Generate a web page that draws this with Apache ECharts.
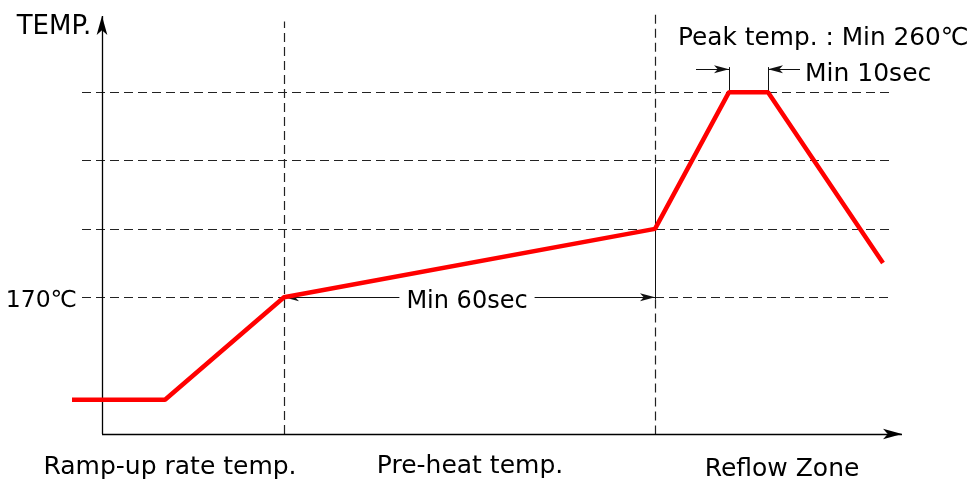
<!DOCTYPE html>
<html>
<head>
<meta charset="utf-8">
<script src="https://cdn.jsdelivr.net/npm/echarts@6/dist/echarts.min.js"></script>
<style>
html,body{margin:0;padding:0;background:#fff;}
#chart{width:971px;height:479px;}
</style>
</head>
<body>
<div id="chart"></div>
<script>
// Reflow profile (x: time units, y: temperature in ℃)
const profileTime = [-7.5, 15.75, 45.5, 138.25, 156.75, 166.5, 195.25];
const profileTemp = [125, 125, 170, 200, 260, 260, 185];

// horizontal guide levels (℃)
const guideLevels = [170, 200, 230, 260];
// zone boundaries (time)
const zoneBounds = [45.5, 138.25];
// peak dwell boundaries (time)
const peakBounds = [156.75, 166.5];
// axis origin / ends
const originTime = 0, originTemp = 110;
const axisEndTime = 200, axisEndTemp = 293.4;

// texts
const zoneLabels = ['Ramp-up rate temp.', 'Pre-heat temp.', 'Reflow Zone'];
const zoneLabelX = [17, 92, 170];
const zoneLabelY = [95.3, 95.8, 94.3];
const yTitle = 'TEMP.';
const levelLabel = '170℃';
const preheatLabel = 'Min 60sec';
const peakLabel = 'Peak temp. : Min 260℃';
const dwellLabel = 'Min 10sec';

const FONT = 'DejaVu Sans';
const TXT = '#000';
const DASH = '#222';

const chart = echarts.init(document.getElementById('chart'), null, {renderer: 'canvas'});

const dashStyle = {color: DASH, width: 1.2, type: [9, 5], opacity: 1};
const solidStyle = {color: '#111', width: 1, type: 'solid', opacity: 1};
const axisStyle = {color: '#000', width: 1.3, type: 'solid', opacity: 1};

function seg(x1, y1, x2, y2, style, s1, s2, size) {
  const sz = size || [6, 15];
  return [
    {coord: [x1, y1], symbol: s1 || 'none', symbolSize: sz, lineStyle: style},
    {coord: [x2, y2], symbol: s2 || 'none', symbolSize: sz, lineStyle: style}
  ];
}

const leftEnd = -5, rightEnd = 197.75;
const segs = [];
// horizontal guides
guideLevels.forEach(function (lv) {
  if (lv === 170) {
    segs.push(seg(leftEnd, lv, zoneBounds[0], lv, dashStyle));
    segs.push(seg(zoneBounds[1], lv, rightEnd, lv, dashStyle));
  } else {
    segs.push(seg(leftEnd, lv, rightEnd, lv, dashStyle));
  }
});
// vertical zone boundaries
segs.push(seg(zoneBounds[0], 110, zoneBounds[0], 291, dashStyle));
segs.push(seg(zoneBounds[1], 294, zoneBounds[1], 227, dashStyle));
segs.push(seg(zoneBounds[1], 227, zoneBounds[1], 169, solidStyle));
segs.push(seg(zoneBounds[1], 169, zoneBounds[1], 110, dashStyle));
// Min 60sec dimension
segs.push(seg(zoneBounds[0], 170, zoneBounds[1], 170, solidStyle, 'arrow', 'arrow'));
// Min 10sec dimension
segs.push(seg(peakBounds[0], 271, peakBounds[0], 260, solidStyle));
segs.push(seg(peakBounds[1], 271, peakBounds[1], 260, solidStyle));
segs.push(seg(148.5, 270, peakBounds[0], 270, solidStyle, 'none', 'arrow'));
segs.push(seg(174.5, 270, peakBounds[1], 270, solidStyle, 'none', 'arrow'));
// axes with arrows
segs.push(seg(originTime, originTemp, axisEndTime, originTemp, axisStyle, 'none', 'arrow', [8, 19]));
segs.push(seg(originTime, originTemp, originTime, axisEndTemp, axisStyle, 'none', 'arrow', [8, 19]));

const option = {
  backgroundColor: '#fff',
  animation: false,
  grid: {left: 62, right: 69, top: 12.4, bottom: 45, containLabel: false},
  xAxis: {
    type: 'value', min: -10, max: 200, show: false,
    axisLine: {show: false}, axisTick: {show: false}, axisLabel: {show: false}, splitLine: {show: false}
  },
  yAxis: {
    type: 'value', min: 110, max: 295, show: false,
    axisLine: {show: false}, axisTick: {show: false}, axisLabel: {show: false}, splitLine: {show: false}
  },
  series: [
    {
      type: 'line', data: [], clip: false, z: 1, silent: true,
      markLine: {silent: true, animation: false, label: {show: false}, symbol: 'none',
        emphasis: {disabled: true}, data: segs}
    },
    {
      type: 'line', clip: false, z: 5, symbol: 'none', silent: true,
      lineStyle: {color: '#f00', width: 4.5},
      data: profileTime.map(function (t, i) { return [t, profileTemp[i]]; })
    }
  ]
};
chart.setOption(option);

// texts placed at data positions converted through the chart's scales
function px(x, y) { return chart.convertToPixel({gridIndex: 0}, [x, y]); }
function txt(x, y, text, align, size, bg) {
  const p = px(x, y);
  return {
    type: 'text', x: p[0], y: p[1], z: 10, silent: true,
    style: {
      text: text, fill: TXT, font: size + 'px "' + FONT + '"',
      align: align, verticalAlign: 'middle',
      backgroundColor: bg || null, padding: bg ? [0, 7] : 0
    }
  };
}
const texts = [];
zoneLabels.forEach(function (t, i) { texts.push(txt(zoneLabelX[i], zoneLabelY[i], t, 'center', 25)); });
texts.push(txt(-12, 288.7, yTitle, 'center', 26));
texts.push(txt(-6.25, 168.3, levelLabel, 'right', 23.5));
texts.push(txt(91.25, 168.2, preheatLabel, 'center', 24, '#fff'));
texts.push(txt(144, 283.4, peakLabel, 'left', 24.8));
texts.push(txt(175.75, 267.7, dwellLabel, 'left', 25));
chart.setOption({graphic: {elements: texts}});
</script>
</body>
</html>
